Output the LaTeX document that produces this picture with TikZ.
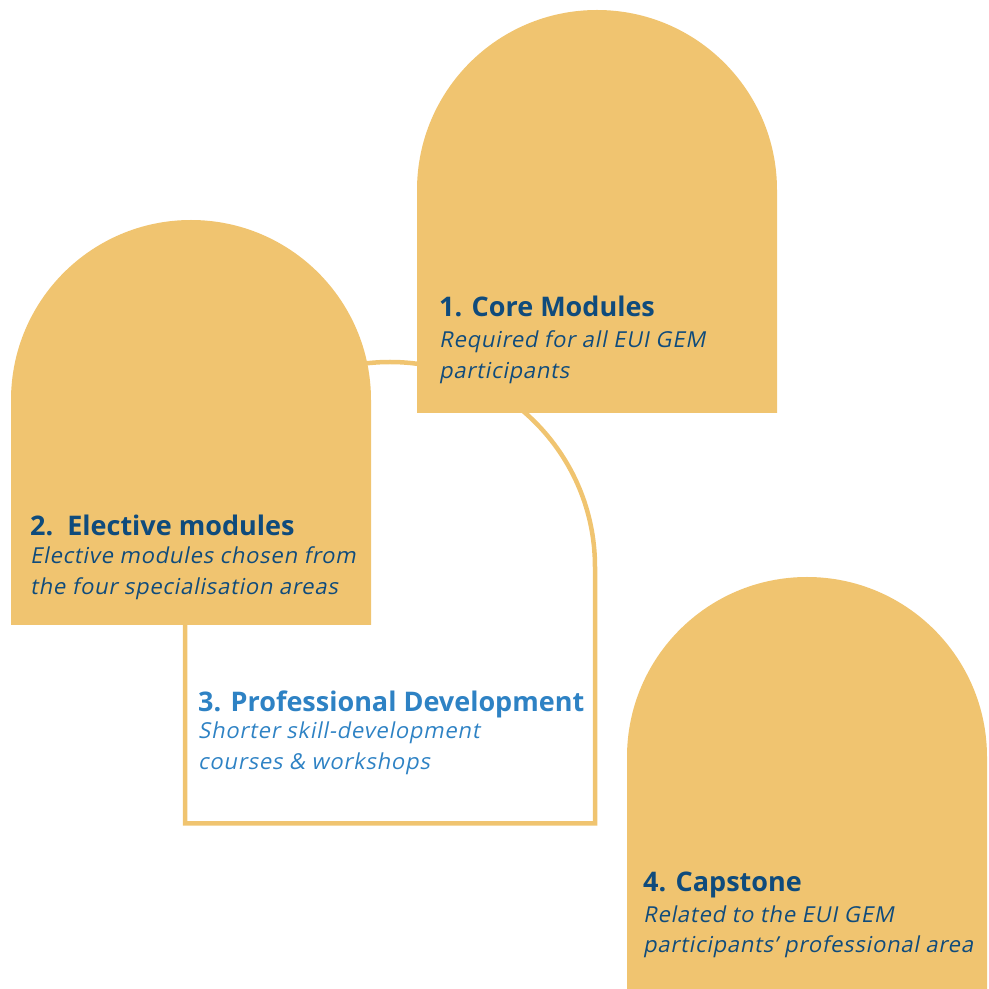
\documentclass[tikz,border=0pt]{standalone}
\usepackage{fontspec}
\setmainfont{Open Sans}
\newfontfamily\slantfont[FakeSlant=0.2, LetterSpace=3.5]{Open Sans}
\usetikzlibrary{positioning}
\definecolor{archyellow}{HTML}{F0C470}
\definecolor{darkblue}{HTML}{0F4B7C}
\definecolor{lightblue}{HTML}{2E82C4}
\def\archpath(#1,#2)(#3:#4){(#1,#2) -- (#1,#3) arc (180:0:#4) -- ({#1+2*#4},#2) -- cycle}
\tikzset{
	archfill/.style={fill=archyellow, draw=none},
	archline/.style={draw=archyellow, line width=4.5pt},
	boxtitle/.style={anchor=base west, inner sep=0pt, font=\fontsize{27}{31}\selectfont\bfseries},
	boxtext/.style={anchor=base west, inner sep=0pt, align=left, font=\fontsize{22}{31}\selectfont\slantfont}
}
\begin{document}
\begin{tikzpicture}[x=1pt, y=1pt]
			%%%%% START %%%%%
			\useasboundingbox (0, 0) rectangle (989, 989);
			
			% outline arch behind
			\draw[archline] \archpath(185,165.5)(422:205);
			
			\fill[archyellow] \archpath(11,364)(589:180);
			\fill[archyellow] \archpath(417,576)(799:180);
			\fill[archyellow] \archpath(627,0)(232:180);
			
			\node[boxtitle, text=darkblue] (coretitle) at (439, 672) {1. Core Modules};
			\node[boxtext, text=darkblue] (coretext) at (439, 610) {Required for all EUI GEM\\participants};
			
			\node[boxtitle, text=darkblue] (electtitle) at (30, 453) {2.\ \ Elective modules};
			\node[boxtext, text=darkblue] (electtext) at (30, 394) {Elective modules chosen from\\the four specialisation areas};
			
			\node[boxtitle, text=lightblue] (proftitle) at (198, 277) {3. Professional Development};
			\node[boxtext, text=lightblue] (proftext) at (198, 219) {Shorter skill-development\\courses \& workshops};
			
			\node[boxtitle, text=darkblue] (captitle) at (643, 97) {4. Capstone};
			\node[boxtext, text=darkblue] (captext) at (643, 36) {Related to the EUI GEM\\participants’ professional area};
			%%%%% END %%%%%
\end{tikzpicture}
\end{document}
